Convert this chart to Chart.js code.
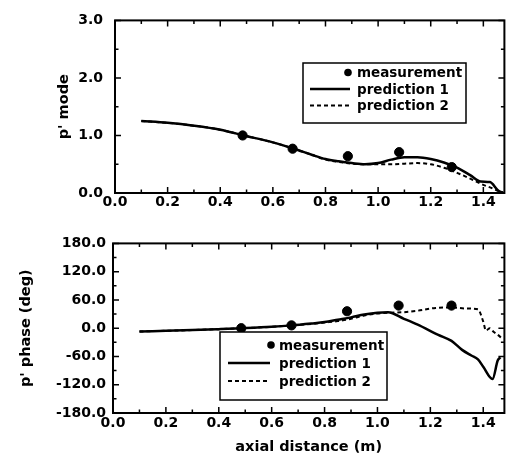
<!DOCTYPE html>
<html><head><meta charset="utf-8">
<script src="https://cdn.jsdelivr.net/npm/chart.js@4.4.1/dist/chart.umd.min.js"></script>
<style>
html,body{margin:0;padding:0;background:#fff;}
#wrap{position:relative;width:510px;height:456px;}
canvas{position:absolute;left:0;}
#c1{top:0}
#c2{top:228px}
</style></head><body>
<div id="wrap"><canvas id="c1" width="510" height="228"></canvas><canvas id="c2" width="510" height="228"></canvas></div>
<script>
// ---- tick values / labels ----
const xTicks = [0, 0.2, 0.4, 0.6, 0.8, 1.0, 1.2, 1.4];
const xTickLabels = ['0.0', '0.2', '0.4', '0.6', '0.8', '1.0', '1.2', '1.4'];
const modeTicks = [0, 1, 2, 3];
const modeTickLabels = ['0.0', '1.0', '2.0', '3.0'];
const phaseTicks = [-180, -120, -60, 0, 60, 120, 180];
const phaseTickLabels = ['-180.0', '-120.0', '-60.0', '0.0', '60.0', '120.0', '180.0'];

// ---- series ----
const seriesNames = ['measurement', 'prediction 1', 'prediction 2'];
const xMeas = [0.485, 0.675, 0.885, 1.08, 1.28];
const measMode = [1.00, 0.77, 0.64, 0.71, 0.45];
const measPhase = [0, 6, 36, 48, 48];

const xPred1Mode = [0.10, 0.20, 0.30, 0.40, 0.49, 0.60, 0.68, 0.75, 0.80, 0.85, 0.90, 0.95, 1.00, 1.05, 1.10, 1.15, 1.20, 1.25, 1.30, 1.35, 1.39, 1.425, 1.455, 1.475];
const pred1Mode = [1.25, 1.22, 1.17, 1.10, 1.00, 0.88, 0.77, 0.66, 0.59, 0.55, 0.52, 0.50, 0.52, 0.58, 0.62, 0.62, 0.59, 0.53, 0.44, 0.31, 0.20, 0.19, 0.05, 0.00];
const xPred2Mode = [0.10, 0.20, 0.30, 0.40, 0.49, 0.60, 0.68, 0.75, 0.80, 0.85, 0.90, 0.95, 1.00, 1.05, 1.10, 1.15, 1.20, 1.25, 1.30, 1.35, 1.40, 1.43, 1.455, 1.475];
const pred2Mode = [1.25, 1.22, 1.17, 1.10, 1.00, 0.88, 0.77, 0.66, 0.58, 0.54, 0.51, 0.50, 0.50, 0.50, 0.51, 0.52, 0.50, 0.44, 0.35, 0.25, 0.14, 0.09, 0.04, 0.01];

const xPred1Phase = [0.10, 0.20, 0.30, 0.40, 0.49, 0.60, 0.675, 0.75, 0.80, 0.85, 0.90, 0.95, 1.00, 1.04, 1.10, 1.15, 1.23, 1.28, 1.32, 1.355, 1.38, 1.40, 1.435, 1.455, 1.465];
const pred1Phase = [-7, -5.5, -4, -2, 0, 3, 6, 10, 13, 18, 23, 29, 33, 34, 20, 8, -14, -27, -46, -58, -66, -82, -108, -68, -62];
const xPred2Phase = [0.10, 0.20, 0.30, 0.40, 0.49, 0.60, 0.675, 0.75, 0.80, 0.85, 0.90, 0.95, 1.00, 1.05, 1.10, 1.15, 1.22, 1.28, 1.33, 1.38, 1.40, 1.41, 1.425, 1.44, 1.455, 1.475];
const pred2Phase = [-7, -5.5, -4, -2, 0, 3, 6, 9, 12, 15, 20, 27, 31, 33, 34, 37, 43, 44, 42, 40, 14, -5, 0, -8, -14, -24];

const FONT = 'DejaVu Sans';
const pts = (xs, ys) => xs.map((x, i) => ({x: x, y: ys[i]}));
const mids = a => a.slice(1).map((v, i) => (v + a[i]) / 2);

const framePlugin = {
  id: 'frameTicks',
  afterDatasetsDraw(chart) {
    const ctx = chart.ctx, a = chart.chartArea;
    const xs = chart.scales.x, ys = chart.scales.y;
    const o = chart.options.plugins.frameTicks;
    ctx.save();
    ctx.strokeStyle = '#000';
    ctx.lineWidth = 1.5;
    const tick = (vals, len) => {
      vals.forEach(v => {
        const px = xs.getPixelForValue(v);
        if (px < a.left - 0.5 || px > a.right + 0.5) return;
        ctx.beginPath();
        ctx.moveTo(px, a.bottom); ctx.lineTo(px, a.bottom - len);
        ctx.moveTo(px, a.top); ctx.lineTo(px, a.top + len);
        ctx.stroke();
      });
    };
    const ticky = (vals, len) => {
      vals.forEach(v => {
        const py = ys.getPixelForValue(v);
        ctx.beginPath();
        ctx.moveTo(a.left, py); ctx.lineTo(a.left + len, py);
        ctx.moveTo(a.right, py); ctx.lineTo(a.right - len, py);
        ctx.stroke();
      });
    };
    tick(xTicks, 6); tick(mids(xTicks), 3.5);
    ticky(o.yMajor, 6); ticky(mids(o.yMajor), 3.5);
    ctx.lineWidth = 2;
    ctx.strokeRect(a.left, a.top, a.right - a.left, a.bottom - a.top);
    ctx.restore();
  }
};

const legendPlugin = {
  id: 'boxLegend',
  afterDatasetsDraw(chart) {
    const o = chart.options.plugins.boxLegend;
    const ctx = chart.ctx, b = o.box;
    ctx.save();
    ctx.fillStyle = '#fff';
    ctx.fillRect(b.x, b.y, b.w, b.h);
    ctx.strokeStyle = '#000';
    ctx.lineWidth = 1.5;
    ctx.strokeRect(b.x, b.y, b.w, b.h);
    ctx.font = 'bold 13.5px "' + FONT + '"';
    ctx.textBaseline = 'middle';
    ctx.textAlign = 'left';
    chart.data.datasets.forEach((ds, i) => {
      const y = b.y + o.rowTop + i * o.rowGap;
      ctx.fillStyle = '#000';
      if (ds.showLine) {
        ctx.setLineDash(ds.borderDash || []);
        ctx.lineWidth = ds.borderWidth;
        ctx.beginPath();
        ctx.moveTo(b.x + o.line0, y); ctx.lineTo(b.x + o.line1, y);
        ctx.stroke();
        ctx.setLineDash([]);
      } else {
        ctx.beginPath();
        ctx.arc(b.x + o.markX, y, 3.8, 0, Math.PI * 2);
        ctx.fill();
      }
      ctx.fillText(ds.label, b.x + o.textX, y + 1);
    });
    ctx.restore();
  }
};

function makeDatasets(meas, x1, p1, x2, p2) {
  return [
    {label: seriesNames[0], data: pts(xMeas, meas), showLine: false, pointRadius: 4.6, pointHoverRadius: 4.6,
     pointBackgroundColor: '#000', pointBorderColor: '#000', borderColor: '#000', backgroundColor: '#000'},
    {label: seriesNames[1], data: pts(x1, p1), showLine: true, pointRadius: 0, borderColor: '#000', borderWidth: 2.5,
     cubicInterpolationMode: 'monotone'},
    {label: seriesNames[2], data: pts(x2, p2), showLine: true, pointRadius: 0, borderColor: '#000', borderWidth: 2,
     borderDash: [4, 3], cubicInterpolationMode: 'monotone'}
  ];
}

function xScale(height, pad, title) {
  return {
    type: 'linear', min: 0, max: 1.48,
    afterBuildTicks: s => { s.ticks = xTicks.map(v => ({value: v})); },
    afterFit: s => { s.height = height; },
    grid: {display: false, drawTicks: false}, border: {display: false},
    ticks: {padding: pad, color: '#000', font: {family: FONT, size: 14, weight: 'bold'},
            maxRotation: 0, autoSkip: false, callback: v => xTickLabels[xTicks.indexOf(v)]},
    title: title ? {display: true, text: title, color: '#000', padding: {top: 0, bottom: 0},
            font: {family: FONT, size: 14.5, weight: 'bold'}} : {display: false}
  };
}
function yScale(min, max, tv, tl, width, pad, title, tpad) {
  return {
    type: 'linear', min: min, max: max,
    afterBuildTicks: s => { s.ticks = tv.map(v => ({value: v})); },
    afterFit: s => { s.width = width; },
    grid: {display: false, drawTicks: false}, border: {display: false},
    ticks: {padding: pad, color: '#000', font: {family: FONT, size: 14, weight: 'bold'},
            autoSkip: false, callback: v => tl[tv.indexOf(v)]},
    title: {display: true, text: title, color: '#000', padding: {top: tpad, bottom: 0},
            font: {family: FONT, size: 14.5, weight: 'bold'}}
  };
}

new Chart(document.getElementById('c1'), {
  type: 'scatter',
  data: {datasets: makeDatasets(measMode, xPred1Mode, pred1Mode, xPred2Mode, pred2Mode)},
  options: {
    responsive: false, animation: false, devicePixelRatio: 1,
    layout: {padding: {top: 19, right: 4, bottom: 0, left: 0}},
    scales: {
      x: xScale(35, 1, null),
      y: yScale(0, 3, modeTicks, modeTickLabels, 115, 12, "p' mode", 56)
    },
    plugins: {
      legend: {display: false}, tooltip: {enabled: false},
      frameTicks: {yMajor: modeTicks},
      boxLegend: {box: {x: 303, y: 63, w: 163, h: 60}, rowTop: 9.5, rowGap: 16.5, markX: 45, line0: 7, line1: 47, textX: 54}
    }
  },
  plugins: [framePlugin, legendPlugin]
});

new Chart(document.getElementById('c2'), {
  type: 'scatter',
  data: {datasets: makeDatasets(measPhase, xPred1Phase, pred1Phase, xPred2Phase, pred2Phase)},
  options: {
    responsive: false, animation: false, devicePixelRatio: 1,
    layout: {padding: {top: 9, right: 3, bottom: 0, left: 0}},
    scales: {
      x: xScale(43, 2, 'axial distance (m)'),
      y: yScale(-180, 180, phaseTicks, phaseTickLabels, 113, 7, "p' phase (deg)", 18)
    },
    plugins: {
      legend: {display: false}, tooltip: {enabled: false},
      frameTicks: {yMajor: phaseTicks},
      boxLegend: {box: {x: 220, y: 104, w: 167, h: 68}, rowTop: 13, rowGap: 18, markX: 51, line0: 8, line1: 50, textX: 59}
    }
  },
  plugins: [framePlugin, legendPlugin]
});
</script>
</body></html>
